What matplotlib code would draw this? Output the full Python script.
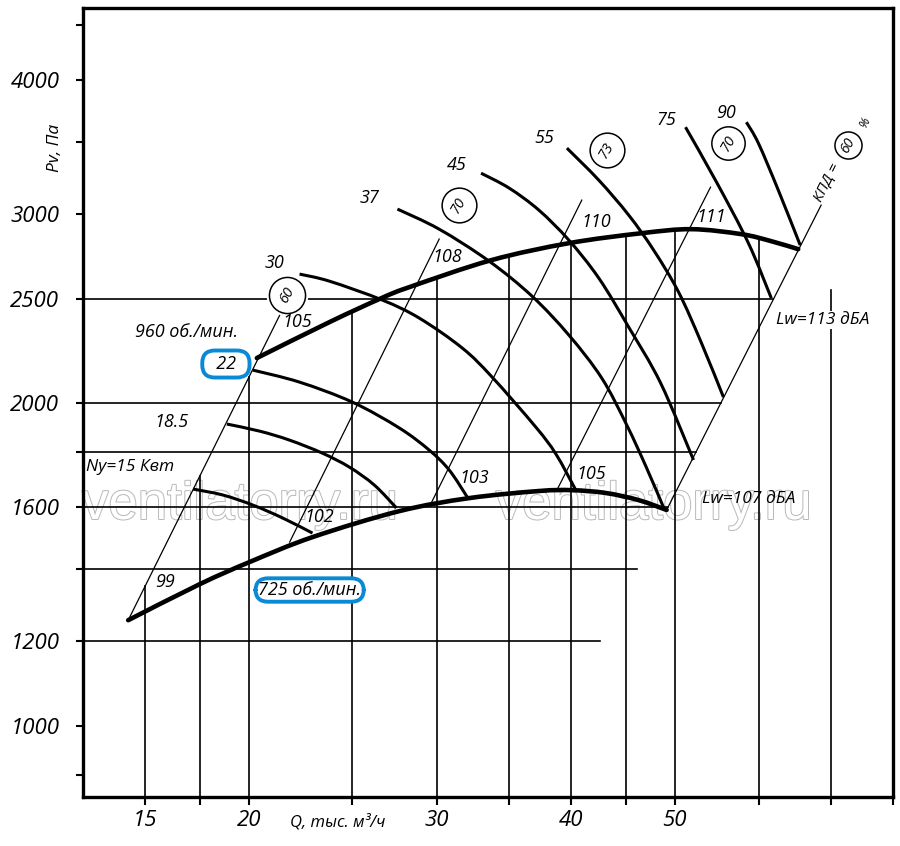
import numpy as np
import matplotlib
matplotlib.use("Agg")
import matplotlib.pyplot as plt
import matplotlib.patheffects as pe
from matplotlib.path import Path
from matplotlib.patches import PathPatch

plt.rcParams['font.family'] = ['Open Sans', 'DejaVu Sans']
plt.rcParams['font.style'] = 'italic'

# ---------------- data ----------------
# Q - тыс. м3/ч, Pv - Па (log-log axes)

# fan speed curves
q_960 = [20.35, 23.80, 26.6, 28.25, 33.7, 39.83, 46.58, 51.86, 57.73, 61.57, 65.24]
p_960 = [2203, 2380, 2505, 2565, 2718, 2819, 2880, 2905, 2874, 2831, 2783]
q_725 = [15.43, 18.00, 20.04, 22.94, 27.65, 32.14, 37.34, 40.08, 43.12, 46.28, 49.15]
p_725 = [1255, 1356, 1422, 1500, 1586, 1631, 1656, 1659, 1649, 1624, 1590]

# motor power curves (Ny, кВт)
q_15 = [17.74, 18.91, 20.17, 21.51, 22.94]
p_15 = [1663, 1642, 1607, 1563, 1513]
q_185 = [19.08, 20.48, 21.84, 23.44, 24.84, 26.21, 27.48]
p_185 = [1912, 1883, 1847, 1796, 1743, 1677, 1597]
q_22 = [20.17, 22.31, 25.00, 27.65, 29.49, 30.79, 32.00]
p_22 = [2147, 2092, 2004, 1896, 1808, 1732, 1635]
q_30 = [22.31, 23.80, 26.66, 28.87, 31.66, 33.76, 37.10, 38.73, 40.43]
p_30 = [2638, 2598, 2495, 2400, 2251, 2115, 1899, 1793, 1659]
q_37 = [27.54, 30.13, 33.55, 36.79, 39.83, 42.75, 45.11, 47.08, 48.94]
p_37 = [3033, 2905, 2712, 2516, 2314, 2110, 1908, 1740, 1590]
q_45 = [32.97, 35.02, 37.34, 39.83, 42.48, 45.30, 48.52, 52.08]
p_45 = [3276, 3173, 3026, 2837, 2615, 2354, 2088, 1770]
q_55 = [39.66, 42.48, 45.30, 47.80, 50.43, 52.98, 55.54]
p_55 = [3457, 3227, 2994, 2777, 2538, 2275, 2026]
q_75 = [51.19, 54.72, 58.61, 61.57]
p_75 = [3616, 3214, 2819, 2505]
q_90 = [58.35, 59.88, 62.50, 65.52]
p_90 = [3655, 3494, 3159, 2807]
power_labels = ['30', '37', '45', '55', '75', '90']

# thin noise-level lines (start on 725, end above 960)
lw_q = [[15.43, 21.38], [21.84, 30.13], [29.62, 40.95], [38.81, 54.02]]
lw_p = [[1255, 2416], [1484, 2844], [1614, 3092], [1659, 3179]]
lw_low = ['99', '102', '103', '105']
lw_high = ['105', '108', '110', '111']

# efficiency boundary (КПД = 60 %)
kpd_q = [49.15, 68.54]
kpd_p = [1590, 3059]

# efficiency circles
circ_q = [21.70, 31.45, 43.21, 56.14, 72.63]
circ_p = [2522, 3059, 3442, 3494, 3479]
circ_txt = ['60', '70', '73', '70', '60']

# grid
vgrid_q = [16, 18, 20, 25, 30, 35, 40, 45, 50, 60, 70]
vgrid_top_far = 2550
hgrid_p = [1200, 1400, 1600, 1800, 2000, 2500]

x_ticks = [16, 18, 20, 25, 30, 35, 40, 45, 50, 60, 70, 80]
x_labels = ['15', '', '20', '', '30', '', '40', '', '50', '', '', '']
y_ticks = [900, 1000, 1200, 1400, 1600, 1800, 2000, 2500, 3000, 3500, 4000, 4500]
y_labels = ['', '1000', '1200', '', '1600', '', '2000', '2500', '3000', '', '4000', '']


def loginterp(x, xs, ys):
    return np.exp(np.interp(np.log(x), np.log(xs), np.log(ys)))


def smooth_curve(qs, ps):
    """Bezier path through the read points (Catmull-Rom in log space)."""
    pts = np.column_stack([np.log(qs), np.log(ps)])
    n = len(pts)
    verts, codes = [pts[0]], [Path.MOVETO]
    for i in range(n - 1):
        p0 = pts[i - 1] if i > 0 else pts[i]
        p1, p2 = pts[i], pts[i + 1]
        p3 = pts[i + 2] if i + 2 < n else pts[i + 1]
        verts += [p1 + (p2 - p0) / 6, p2 - (p3 - p1) / 6, p2]
        codes += [Path.CURVE4] * 3
    return Path(np.exp(np.array(verts)), codes)


BLUE = '#0a8ad6'

fig = plt.figure(figsize=(9, 8.46), dpi=100)
ax = fig.add_axes([83 / 900, 49 / 846, 810 / 900, 789 / 846])
ax.set_xscale('log')
ax.set_yscale('log')
ax.set_xlim(14.0, 80.0)
ax.set_ylim(858.7, 4670)

# watermark
for qw in [19.62, 47.80]:
    ax.text(qw, 1607, 'ventilatorry.ru', family='Liberation Sans', style='normal',
            fontsize=38, color='white', ha='center', va='center', zorder=0.5,
            path_effects=[pe.withStroke(linewidth=1.4, foreground='#b8b8b8')])

# grid lines clipped by the chart field
for q in vgrid_q:
    if q < q_960[0]:
        top = loginterp(q, lw_q[0], lw_p[0])
    elif q <= q_960[-1]:
        top = loginterp(q, q_960, p_960)
    else:
        top = vgrid_top_far
    ax.plot([q, q], [ax.get_ylim()[0], top], color='black', lw=1.2, zorder=1)

m, b = np.polyfit(np.log(kpd_q), np.log(kpd_p), 1)
for p in hgrid_p:
    q_end = np.exp((np.log(p) - b) / m)
    ax.plot([ax.get_xlim()[0], q_end], [p, p], color='black', lw=1.2, zorder=1)

# thin lines
for qq, pp in zip(lw_q, lw_p):
    ax.plot(qq, pp, color='black', lw=0.9, zorder=2)
ax.plot(kpd_q, kpd_p, color='black', lw=0.9, zorder=2)

# power curves
for qq, pp in [(q_15, p_15), (q_185, p_185), (q_22, p_22), (q_30, p_30), (q_37, p_37),
               (q_45, p_45), (q_55, p_55), (q_75, p_75), (q_90, p_90)]:
    ax.add_patch(PathPatch(smooth_curve(qq, pp), fill=False, ec='black', lw=2.2,
                           capstyle='butt', zorder=3))

# speed curves
for qq, pp in [(q_960, p_960), (q_725, p_725)]:
    ax.add_patch(PathPatch(smooth_curve(qq, pp), fill=False, ec='black', lw=3.3,
                           capstyle='round', zorder=4))

# efficiency circles
sizes = [26, 25, 25, 24, 19.5]
for q, p, t, s in zip(circ_q, circ_p, circ_txt, sizes):
    ax.plot(q, p, 'o', ms=s + 3, mfc='white', mec='white', zorder=5)
    ax.plot(q, p, 'o', ms=s, mfc='white', mec='black', mew=1.1, zorder=5)
    ax.text(q, p, t, fontsize=10.5 if s > 20 else 10, rotation=60, ha='center', va='center',
            rotation_mode='anchor', zorder=6)

# labels
txt = dict(ha='center', va='center', zorder=6)
ax.text(17.51, 2329, '960 об./мин.', fontsize=13, **txt)
ax.text(19.04, 2175, '  22  ', fontsize=13,
        bbox=dict(boxstyle='round,pad=0.25,rounding_size=0.7', fc='white', ec=BLUE, lw=2.8), **txt)
ax.text(22.80, 1339, '725 об./мин.', fontsize=13,
        bbox=dict(boxstyle='round,pad=0.15,rounding_size=0.7', fc='white', ec=BLUE, lw=2.8), **txt)
ax.text(16.95, 1920, '18.5', fontsize=13, **txt)
ax.text(15.49, 1743, 'Ny=15 Квт', fontsize=12.5, **txt)

for t, q, p in zip(power_labels, [21.15, 25.93, 31.32, 37.75, 49.15, 55.90],
                   [2701, 3105, 3333, 3532, 3671, 3726]):
    ax.text(q, p, t, fontsize=13, **txt)

for t, q, p in zip(lw_low, [16.70, 23.29, 32.48, 41.75], [1362, 1566, 1703, 1717]):
    ax.text(q, p, t, fontsize=13, **txt)
for t, q, p in zip(lw_high, [22.22, 30.65, 42.20, 54.13], [2380, 2736, 2949, 2981]):
    ax.text(q, p, t, fontsize=13, **txt)

ax.text(68.84, 2390, 'Lw=113 дБА', fontsize=12.5,
        bbox=dict(boxstyle='square,pad=0.05', fc='white', ec='none'), **txt)
ax.text(58.61, 1628, 'Lw=107 дБА', fontsize=12.5, **txt)
ax.text(69.43, 3207, 'КПД =', fontsize=11, rotation=63.4, rotation_mode='anchor', **txt)
ax.text(75.33, 3655, '%', fontsize=9, rotation=63.4, rotation_mode='anchor', **txt)

# axes styling
for s in ax.spines.values():
    s.set_linewidth(2.4)
ax.xaxis.set_minor_locator(matplotlib.ticker.NullLocator())
ax.yaxis.set_minor_locator(matplotlib.ticker.NullLocator())
ax.set_xticks(x_ticks)
ax.set_xticklabels(x_labels)
ax.set_yticks(y_ticks)
ax.set_yticklabels(y_labels)
ax.tick_params(axis='x', direction='out', length=6, width=1.5, pad=3, labelsize=16)
ax.tick_params(axis='y', direction='out', length=5, width=1.5, pad=12, labelsize=16)

fig.text(55 / 900, 1 - 148 / 846, 'Pv, Па', rotation=90, fontsize=12.5, ha='center', va='center')
fig.text(338 / 900, 1 - 822 / 846, 'Q, тыс. м³/ч', fontsize=12, ha='center', va='center')

fig.savefig('out.png', dpi=100)
